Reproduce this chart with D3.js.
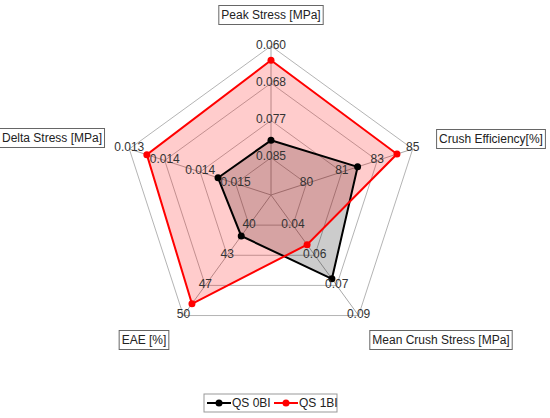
<!DOCTYPE html>
<html>
<head>
<meta charset="utf-8">
<script src="https://cdn.jsdelivr.net/npm/d3@7"></script>
<style>
  body { margin: 0; background: #fff; }
  svg { display: block; font-family: "Liberation Sans", Arial, sans-serif; }
</style>
</head>
<body>
<svg id="screen" width="550" height="418"></svg>
<script>
const screenEl = document.querySelector("#screen");

//data, clockwise from the top
const axes = ["Peak Stress [MPa]", "Crush Efficiency[%]", "Mean Crush Stress [MPa]", "EAE [%]", "Delta Stress [MPa]"];
// value at the first ring and at the outer ring of each axis
const innerValues = [0.085, 79.6, 0.04, 40, 0.0150];
const outerValues = [0.060, 85.0, 0.09, 50, 0.0130];
// tick labels, from inner ring to outer ring
const tickLabels = [
  ["0.085", "0.077", "0.068", "0.060"],
  ["80", "81", "83", "85"],
  ["0.04", "0.06", "0.07", "0.09"],
  ["40", "43", "47", "50"],
  ["0.015", "0.014", "0.014", "0.013"]
];
const seriesNames = ["QS 0BI", "QS 1BI"];
const qs0bi = [0.0811, 82.2, 0.0697, 41.2, 0.01467];
const qs1bi = [0.0632, 84.2, 0.0508, 48.7, 0.01333];

//settings
const cx = 271, cy = 195, R = 149, rings = 4;
const colors = ["#000000", "#ff0000"];
const fills = ["rgba(0,0,0,0.2)", "rgba(255,0,0,0.2)"];
const labelBoxes = [[271, 15], [491, 139], [441, 340], [144, 340], [52, 138]];

var svg = d3.select(screenEl);

var angle = d3.scaleLinear().domain([0, axes.length]).range([0, 2 * Math.PI]);
var ringScale = d3.scaleLinear().domain([0, rings]).range([0, R]);
var axisScales = axes.map((a, i) => d3.scaleLinear()
  .domain([innerValues[i], outerValues[i]])
  .range([ringScale(1), ringScale(rings)]));

function pt(i, r) {
  var a = angle(i);
  return [cx + r * Math.sin(a), cy - r * Math.cos(a)];
}

//grid
var grid = svg.append("g");
d3.range(1, rings + 1).forEach(function(k){
  var pts = axes.map((a, i) => pt(i, ringScale(k)));
  grid.append("polygon").attr("points", pts.map(p => p.join(",")).join(" "))
    .attr("fill", "none").attr("stroke", "#b4b4b4").attr("stroke-width", 1);
});
axes.forEach(function(a, i){
  var p = pt(i, R);
  grid.append("line").attr("x1", cx).attr("y1", cy).attr("x2", p[0]).attr("y2", p[1])
    .attr("stroke", "#a8a8a8").attr("stroke-width", 1);
});

//series
var allSeries = [qs0bi, qs1bi];
var pointsOf = allSeries.map(s => s.map((v, i) => pt(i, axisScales[i](v))));
var line = d3.line().curve(d3.curveLinearClosed);

pointsOf.forEach(function(pts, s){
  svg.append("path").attr("d", line(pts)).attr("fill", fills[s]).attr("stroke", "none");
});
pointsOf.forEach(function(pts, s){
  svg.append("path").attr("d", line(pts)).attr("fill", "none")
    .attr("stroke", colors[s]).attr("stroke-width", 2).attr("stroke-linejoin", "miter");
  svg.selectAll(null).data(pts).enter().append("circle")
    .attr("cx", d => d[0]).attr("cy", d => d[1]).attr("r", 3.5).attr("fill", colors[s]);
});

//tick labels
tickLabels.forEach(function(labels, i){
  labels.forEach(function(t, k){
    var p = pt(i, ringScale(k + 1));
    svg.append("text").attr("x", p[0]).attr("y", p[1] - 1.5)
      .attr("text-anchor", "middle").attr("dominant-baseline", "central")
      .attr("font-size", 12).attr("fill", "#333").text(t);
  });
});

//axis name boxes
axes.forEach(function(a, i){
  var g = svg.append("g").attr("transform", "translate(" + labelBoxes[i][0] + "," + labelBoxes[i][1] + ")");
  var txt = g.append("text").attr("text-anchor", "middle").attr("dominant-baseline", "central")
    .attr("font-size", 12).attr("fill", "#222").text(a);
  var w = txt.node().getComputedTextLength() + 5;
  g.insert("rect", "text").attr("x", -w / 2).attr("y", -9.5).attr("width", w).attr("height", 19)
    .attr("fill", "#fff").attr("stroke", "#666").attr("stroke-width", 1);
});

//legend
var legend = svg.append("g").attr("transform", "translate(204,394)");
legend.append("rect").attr("x", 0).attr("y", 0).attr("width", 133).attr("height", 18)
  .attr("fill", "#fff").attr("stroke", "#999").attr("stroke-width", 1);
seriesNames.forEach(function(n, s){
  var x0 = 3 + s * 67;
  legend.append("line").attr("x1", x0).attr("x2", x0 + 24).attr("y1", 9).attr("y2", 9)
    .attr("stroke", colors[s]).attr("stroke-width", 2);
  legend.append("circle").attr("cx", x0 + 12).attr("cy", 9).attr("r", 3.5).attr("fill", colors[s]);
  legend.append("text").attr("x", x0 + 25).attr("y", 9).attr("dominant-baseline", "central")
    .attr("font-size", 12).attr("fill", "#222").text(n);
});
</script>
</body>
</html>
